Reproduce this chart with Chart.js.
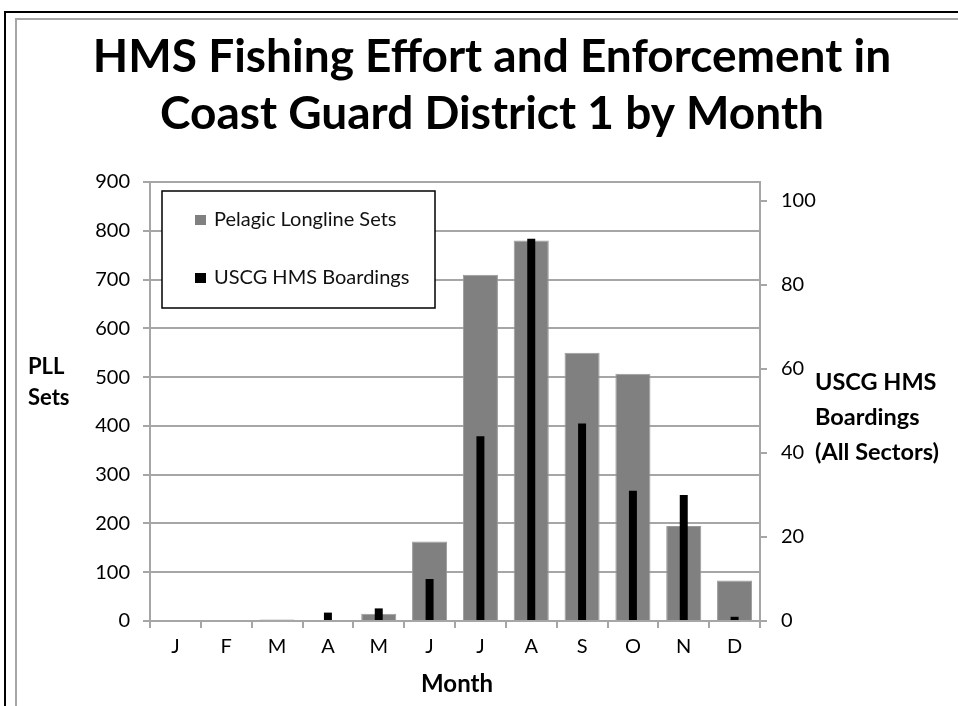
<!DOCTYPE html>
<html>
<head>
<meta charset="utf-8">
<title>HMS Fishing Effort and Enforcement</title>
<script src="https://cdn.jsdelivr.net/npm/chart.js@4.4.1/dist/chart.umd.min.js"></script>
<style>
  body { margin: 0; background: #fff; }
  #wrap { position: relative; width: 958px; height: 706px; overflow: hidden; background: #fff; }
  .frame { position: absolute; right: -20px; bottom: -20px; pointer-events: none; }
  #outer { left: 4px; top: 11px; border-left: 2px solid #000; border-top: 2px solid #000; }
  #inner { left: 15px; top: 18px; border-left: 2px solid #a6a6a6; border-top: 2px solid #a6a6a6; }
</style>
</head>
<body>
<div id="wrap">
  <canvas id="chart" width="958" height="706"></canvas>
  <div class="frame" id="outer"></div>
  <div class="frame" id="inner"></div>
</div>
<script>
// data
const months = ['J', 'F', 'M', 'A', 'M', 'J', 'J', 'A', 'S', 'O', 'N', 'D'];
const pllSets = [0, 0, 3, 0, 15, 163, 710, 780, 550, 507, 195, 83];
const boardings = [0, 0, 0, 2, 3, 10, 44, 91, 47, 31, 30, 1];
const rightTicks = [0, 20, 40, 60, 80, 100];

const titleLines = ['HMS Fishing Effort and Enforcement in', 'Coast Guard District 1 by Month'];
const leftTitle = ['PLL', 'Sets'];
const rightTitle = ['USCG HMS', 'Boardings', '(All Sectors)'];
const xTitle = 'Month';

const gridGray = '#a6a6a6';

Chart.defaults.font.family = 'Lato';
Chart.defaults.color = '#000';

// title and axis titles drawn flat, like the original
const flatTitles = {
    id: 'flatTitles',
    afterDraw(chart) {
        const ctx = chart.ctx;
        const area = chart.chartArea;
        ctx.save();
        ctx.fillStyle = '#000';
        ctx.textBaseline = 'middle';

        // main title sits a little right of the canvas centre
        ctx.textAlign = 'center';
        ctx.font = 'bold 46px Lato';
        ctx.fillText(titleLines[0], 492, 57.5);
        ctx.fillText(titleLines[1], 492, 114.5);

        ctx.textAlign = 'left';
        ctx.font = 'bold 22px Lato';
        ctx.fillText(leftTitle[0], 28, 367);
        ctx.fillText(leftTitle[1], 28, 398);
        ctx.font = 'bold 23.5px Lato';
        ctx.fillText(rightTitle[0], 815, 382);
        ctx.fillText(rightTitle[1], 815, 417);
        ctx.fillText(rightTitle[2], 815, 452);
        ctx.textAlign = 'center';
        ctx.font = 'bold 24px Lato';
        ctx.fillText(xTitle, (area.left + area.right) / 2 + 2, 684);
        ctx.restore();
    }
};

// boxed legend sitting inside the plot
const boxLegend = {
    id: 'boxLegend',
    afterDraw(chart) {
        const ctx = chart.ctx;
        const sets = chart.data.datasets;
        ctx.save();
        ctx.fillStyle = '#fff';
        ctx.fillRect(162, 191, 273, 117);
        ctx.strokeStyle = '#000';
        ctx.lineWidth = 1.5;
        ctx.strokeRect(162, 191, 273, 117);
        ctx.font = '20px Lato';
        ctx.textBaseline = 'middle';
        ctx.textAlign = 'left';
        const rows = [220, 278];
        sets.forEach(function (ds, i) {
            ctx.fillStyle = ds.backgroundColor;
            ctx.fillRect(195, rows[i] - 5, 11, 10);
            ctx.fillStyle = '#111';
            ctx.fillText(ds.label, 214, rows[i]);
        });
        ctx.restore();
    }
};

const whiteBg = {
    id: 'whiteBg',
    beforeDraw(chart) {
        const ctx = chart.ctx;
        ctx.save();
        ctx.fillStyle = '#fff';
        ctx.fillRect(0, 0, chart.width, chart.height);
        ctx.restore();
    }
};

new Chart(document.getElementById('chart'), {
    type: 'bar',
    data: {
        labels: months,
        datasets: [{
            label: 'Pelagic Longline Sets',
            data: pllSets,
            yAxisID: 'y',
            backgroundColor: '#808080',
            borderColor: '#9a9a9a',
            borderWidth: 1,
            grouped: false,
            barPercentage: 0.69,
            categoryPercentage: 1,
            order: 2
        }, {
            label: 'USCG HMS Boardings',
            data: boardings,
            yAxisID: 'y1',
            backgroundColor: '#000',
            borderWidth: 0,
            grouped: false,
            barPercentage: 0.157,
            categoryPercentage: 1,
            order: 1
        }]
    },
    options: {
        responsive: false,
        animation: false,
        layout: { padding: { top: 182, left: 0, right: 0, bottom: 0 } },
        plugins: {
            legend: { display: false },
            tooltip: { enabled: false },
            title: { display: false }
        },
        scales: {
            x: {
                grid: { drawOnChartArea: false, offset: true, tickLength: 7, color: gridGray, lineWidth: 2 },
                border: { color: gridGray, width: 2 },
                ticks: { font: { size: 20 }, padding: 7, maxRotation: 0 },
                afterFit: function (scale) { scale.height = 85; }
            },
            y: {
                position: 'left',
                min: 0,
                max: 900,
                grid: { color: gridGray, lineWidth: 2, tickLength: 7 },
                border: { color: gridGray, width: 2 },
                ticks: { stepSize: 100, font: { size: 20 }, padding: 13 },
                afterFit: function (scale) { scale.width = 150; }
            },
            y1: {
                position: 'right',
                min: 0,
                max: 104.5,
                grid: { drawOnChartArea: false, color: gridGray, lineWidth: 2, tickLength: 7 },
                border: { color: gridGray, width: 2 },
                ticks: { font: { size: 20 }, padding: 14 },
                afterBuildTicks: function (scale) {
                    scale.ticks = rightTicks.map(function (v) { return { value: v }; });
                },
                afterFit: function (scale) { scale.width = 198; }
            }
        }
    },
    plugins: [whiteBg, flatTitles, boxLegend]
});
</script>
</body>
</html>
